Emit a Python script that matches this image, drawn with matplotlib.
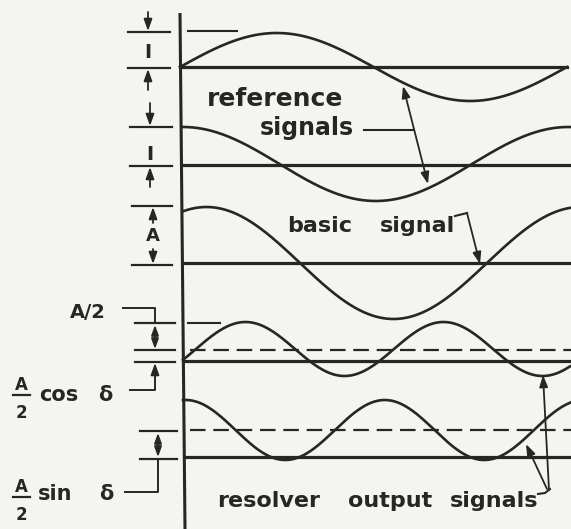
"""
Reference, basic and resolver output signals (hand-drawn waveform diagram).
Output: out.png (571 x 529 px)
"""
import matplotlib.pyplot as plt
import numpy as np

# ---- Data (pixel units) ----
wave_names = ["reference 1", "reference 2", "basic", "resolver cos", "resolver sin"]
wave_start = [180, 183, 183, 183, 183]
wave_end = [567, 571, 571, 570, 571]
wave_center = [67, 164, 263, 349, 430]
wave_amp = [34, 37, 56, 27, 30]
wave_period = [387, 385, 374, 198, 199]
wave_zero_x = [180, 87, 113, 196, 136]     # x where the wave crosses its centre going up
solid_y = [67, 165, 263, 361, 457]
solid_x = [(180, 567), (183, 571), (183, 571), (183, 570), (185, 571)]
dashed_y = [None, None, None, 350, 430]

# ---- Style ----
ink = "#262626"
paper = "#f4f4f1"
plt.rcParams.update({
    "font.family": ["DejaVu Sans"],
    "font.weight": "bold",
})

fig = plt.figure(figsize=(5.71, 5.29), dpi=100, facecolor=paper)
ax = fig.add_axes([0, 0, 1, 1])
ax.set_xlim(0, 571)
ax.set_ylim(529, 0)
ax.set_facecolor(paper)
ax.axis("off")


def arrow(tail, tip, both=False, lw=1.3, hl=0.7, hw=0.25):
    style = ("<|-|>" if both else "-|>") + f",head_length={hl},head_width={hw}"
    ax.annotate("", xy=tip, xytext=tail,
                arrowprops=dict(arrowstyle=style, color=ink, lw=lw,
                                shrinkA=0, shrinkB=0))


# vertical time axis
ax.plot([180, 185], [13, 529], color=ink, lw=2.2, solid_capstyle="butt")

# ---- Waves, baselines, dashed centre lines ----
for i in range(len(wave_names)):
    x = np.linspace(wave_start[i], wave_end[i], 400)
    y = wave_center[i] - wave_amp[i] * np.sin(2 * np.pi * (x - wave_zero_x[i]) / wave_period[i])
    ax.plot(x, y, color=ink, lw=1.9)
    ax.plot(solid_x[i], [solid_y[i]] * 2, color=ink, lw=2.3)
    if dashed_y[i] is not None:
        ax.plot([190, 571], [dashed_y[i]] * 2, color=ink, lw=1.6,
                linestyle=(0, (7, 3.5)))

# short peak markers
ax.plot([188, 237], [31, 31], color=ink, lw=1.5)
ax.plot([188, 220], [323, 323], color=ink, lw=1.5)

# ---- Left dimension marks ----
tick_lw = 1.6
for (x0, x1), ys in [((128, 170), (32, 68)), ((130, 172), (127, 166)),
                     ((132, 172), (206, 265)), ((135, 175), (323, 350, 362)),
                     ((140, 177), (431, 459))]:
    for yy in ys:
        ax.plot([x0, x1], [yy, yy], color=ink, lw=tick_lw)

# amplitude 1 (reference signals)
arrow((148, 12), (148, 31))
ax.text(148, 53, "I", ha="center", va="center", fontsize=14, color=ink)
arrow((148, 90), (148, 69))
arrow((150, 103), (150, 126))
ax.text(150, 154, "I", ha="center", va="center", fontsize=14, color=ink)
arrow((150, 187), (150, 167))

# amplitude A (basic signal)
arrow((153, 223), (153, 207))
ax.text(153, 236, "A", ha="center", va="center", fontsize=13, color=ink)
arrow((153, 249), (153, 264))

# A/2
ax.text(70, 318, "A/2", ha="left", va="baseline", fontsize=14, color=ink)
ax.plot([123, 155, 155], [308, 308, 323], color=ink, lw=1.4)
arrow((155, 325), (155, 349), both=True, hl=0.6, hw=0.22)

# A/2 cos d
ax.plot([130, 155, 155], [390, 390, 375], color=ink, lw=1.4)
arrow((155, 376), (155, 363))
ax.text(21, 390, "A", ha="center", va="baseline", fontsize=12, color=ink)
ax.plot([13, 30], [395, 395], color=ink, lw=1.6)
ax.text(21, 418, "2", ha="center", va="baseline", fontsize=12, color=ink)
ax.text(39, 401, "cos", ha="left", va="baseline", fontsize=15, color=ink)
ax.text(98, 401, "δ", ha="left", va="baseline", fontsize=15, color=ink)

# A/2 sin d
arrow((158, 433), (158, 457), both=True, hl=0.6, hw=0.22)
ax.plot([158, 158, 125], [459, 492, 492], color=ink, lw=1.4)
ax.text(21, 492, "A", ha="center", va="baseline", fontsize=12, color=ink)
ax.plot([13, 30], [497, 497], color=ink, lw=1.6)
ax.text(21, 520, "2", ha="center", va="baseline", fontsize=12, color=ink)
ax.text(38, 500, "sin", ha="left", va="baseline", fontsize=15, color=ink)
ax.text(99, 500, "δ", ha="left", va="baseline", fontsize=15, color=ink)

# ---- Labels and pointers ----
ax.text(207, 106, "reference", ha="left", va="baseline", fontsize=18, color=ink)
ax.text(260, 135, "signals", ha="left", va="baseline", fontsize=17, color=ink)
ax.plot([364, 413], [130, 130], color=ink, lw=1.5)
arrow((428, 184), (403, 86), both=True)

ax.text(287, 232, "basic", ha="left", va="baseline", fontsize=16, color=ink)
ax.text(380, 232, "signal", ha="left", va="baseline", fontsize=16, color=ink)
ax.plot([455, 467], [216, 213], color=ink, lw=1.5)
arrow((467, 213), (480, 264))

ax.text(217, 507, "resolver", ha="left", va="baseline", fontsize=16, color=ink)
ax.text(348, 507, "output", ha="left", va="baseline", fontsize=16, color=ink)
ax.text(450, 507, "signals", ha="left", va="baseline", fontsize=16, color=ink)
ax.plot([538, 545, 550], [494, 493, 489], color=ink, lw=1.5)
arrow((549, 490), (543, 375))
arrow((547, 489), (526, 444))

fig.savefig("out.png", dpi=100, facecolor=paper)
